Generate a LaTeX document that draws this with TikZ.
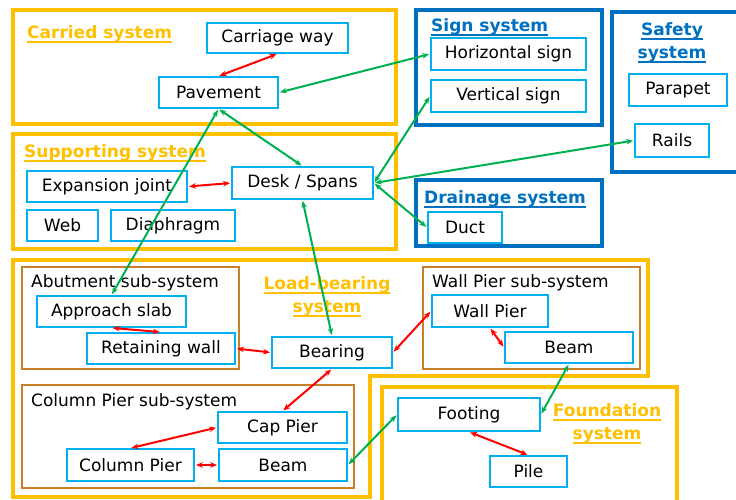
\documentclass[tikz,border=0pt]{standalone}
\usepackage{fontspec}
\setmainfont{DejaVu Sans}
\usetikzlibrary{arrows.meta}
\definecolor{gold}{RGB}{255,192,0}
\definecolor{sysblue}{RGB}{0,112,192}
\definecolor{boxcyan}{RGB}{0,176,240}
\definecolor{subbrown}{RGB}{197,128,40}
\definecolor{relred}{RGB}{255,0,0}
\definecolor{relgreen}{RGB}{0,176,80}
\newsavebox{\ulnbox}
\newcommand{\uln}[1]{\leavevmode\sbox{\ulnbox}{#1}\rlap{\vrule width \wd\ulnbox height -3pt depth 4.6pt}\usebox{\ulnbox}}
\newcommand{\twolines}[2]{\begin{tabular}{@{}c@{}}\uln{#1}\\\uln{#2}\end{tabular}}
\tikzset{
  elem/.style={draw=boxcyan, line width=1.8pt, inner sep=0pt, font=\fontsize{17}{20}\selectfont},
  goldsys/.style={draw=gold, line width=3.5pt},
  bluesys/.style={draw=sysblue, line width=3.5pt},
  subsys/.style={draw=subbrown, line width=2pt},
  goldlabel/.style={text=gold, inner sep=0pt, font=\bfseries\fontsize{17}{23}\selectfont},
  bluelabel/.style={text=sysblue, inner sep=0pt, font=\bfseries\fontsize{17}{23}\selectfont},
  sublabel/.style={anchor=west, inner sep=0pt, font=\fontsize{17}{20}\selectfont},
  rel/.style={<->, >={Stealth[length=7pt,width=5.5pt]}, line width=2pt, shorten <=1pt, shorten >=1pt},
}

\begin{document}
\begin{tikzpicture}[x=1pt,y=-1pt]

  \useasboundingbox (0,0) rectangle (736,499);

  % System frames
  \draw[goldsys] (13,10) rectangle (396,124);
  \draw[goldsys] (13,134) rectangle (396,249);
  \draw[goldsys] (13,260) -- (648,260) -- (648,376) -- (370,376) -- (370,497) -- (13,497) -- cycle;
  \draw[bluesys] (416,10) rectangle (602,125);
  \draw[bluesys] (416,180) rectangle (602,246);
  \begin{scope}
    \clip (0,0) rectangle (736,499);
    \draw[bluesys] (612,12) rectangle (750,172);
    \draw[goldsys] (382,387) rectangle (677,520);
  \end{scope}

  % Sub-system frames
  \draw[subsys] (22,267) rectangle (239,369);
  \draw[subsys] (423,267) rectangle (640,369);
  \draw[subsys] (22,385) rectangle (354,488);

  % System titles
  \node[goldlabel, anchor=base west] (tcarried) at (27,38) {\uln{Carried system}};
  \node[goldlabel, anchor=base west] (tsupport) at (24,157) {\uln{Supporting system}};
  \node[goldlabel] (tload) at (327,296) {\twolines{Load-bearing}{system}};
  \node[goldlabel] (tfound) at (607,423) {\twolines{Foundation}{system}};
  \node[bluelabel, anchor=base west] (tsign) at (431,31) {\uln{Sign system}};
  \node[bluelabel] (tsafety) at (672,42) {\twolines{Safety}{system}};
  \node[bluelabel, anchor=base west] (tdrain) at (424,203) {\uln{Drainage system}};

  % Sub-system titles
  \node[sublabel] (tabut) at (31,283) {Abutment sub-system};
  \node[sublabel] (twall) at (432,283) {Wall Pier sub-system};
  \node[sublabel] (tcol) at (31,402) {Column Pier sub-system};

  % Elements
  \node[elem, minimum width=141pt, minimum height=30pt] (carr) at (277.5,38) {Carriage way};
  \node[elem, minimum width=119pt, minimum height=31pt] (pave) at (218.5,92.5) {Pavement};
  \node[elem, minimum width=155pt, minimum height=32pt] (hsign) at (508.5,54) {Horizontal sign};
  \node[elem, minimum width=155pt, minimum height=32pt] (vsign) at (508.5,96) {Vertical sign};
  \node[elem, minimum width=98pt, minimum height=32pt] (parapet) at (678,90) {Parapet};
  \node[elem, minimum width=74pt, minimum height=33pt] (rails) at (672,140.5) {Rails};
  \node[elem, minimum width=74pt, minimum height=31pt] (duct) at (465,227.5) {Duct};
  \node[elem, minimum width=160pt, minimum height=31pt] (expj) at (107,186.5) {Expansion joint};
  \node[elem, minimum width=141pt, minimum height=32pt] (desk) at (302.5,183) {Desk / Spans};
  \node[elem, minimum width=71pt, minimum height=31pt] (web) at (62.5,225.5) {Web};
  \node[elem, minimum width=124pt, minimum height=31pt] (diaph) at (173,225.5) {Diaphragm};
  \node[elem, minimum width=149pt, minimum height=31pt] (appr) at (111.5,311.5) {Approach slab};
  \node[elem, minimum width=148pt, minimum height=31pt] (retw) at (161,348.5) {Retaining wall};
  \node[elem, minimum width=120pt, minimum height=31pt] (bear) at (332,352.5) {Bearing};
  \node[elem, minimum width=116pt, minimum height=32pt] (wallp) at (490,311) {Wall Pier};
  \node[elem, minimum width=128pt, minimum height=31pt] (wbeam) at (569,347.5) {Beam};
  \node[elem, minimum width=142pt, minimum height=33pt] (foot) at (469,414.5) {Footing};
  \node[elem, minimum width=77pt, minimum height=31pt] (pile) at (528.5,471.5) {Pile};
  \node[elem, minimum width=129pt, minimum height=31pt] (capp) at (282.5,427.5) {Cap Pier};
  \node[elem, minimum width=127pt, minimum height=32pt] (colp) at (130.5,465) {Column Pier};
  \node[elem, minimum width=128pt, minimum height=32pt] (cbeam) at (283,465) {Beam};

  % Relations inside a system
  \draw[rel, relred] (carr.south) -- (pave.north);
  \draw[rel, relred] (expj.east) -- (desk.west);
  \draw[rel, relred] (appr.south) -- (retw.north);
  \draw[rel, relred] (retw.east) -- (bear.west);
  \draw[rel, relred] (bear.east) -- (wallp.west);
  \draw[rel, relred] (wallp.south) -- (wbeam.west);
  \draw[rel, relred] (bear.south) -- (capp.north);
  \draw[rel, relred] (capp.west) -- (colp.north);
  \draw[rel, relred] (colp.east) -- (cbeam.west);
  \draw[rel, relred] (foot.south) -- (pile.north);

  % Relations between systems
  \draw[rel, relgreen] (pave.east) -- (hsign.west);
  \draw[rel, relgreen] (pave.south) -- (desk.north);
  \draw[rel, relgreen] (pave.south) -- (appr.north);
  \draw[rel, relgreen] (desk.east) -- (vsign.west);
  \draw[rel, relgreen] (desk.east) -- (rails.west);
  \draw[rel, relgreen] (desk.east) -- (duct.west);
  \draw[rel, relgreen] (desk.south) -- (bear.north);
  \draw[rel, relgreen] (wbeam.south) -- (foot.east);
  \draw[rel, relgreen] (cbeam.east) -- (foot.west);

\end{tikzpicture}
\end{document}
